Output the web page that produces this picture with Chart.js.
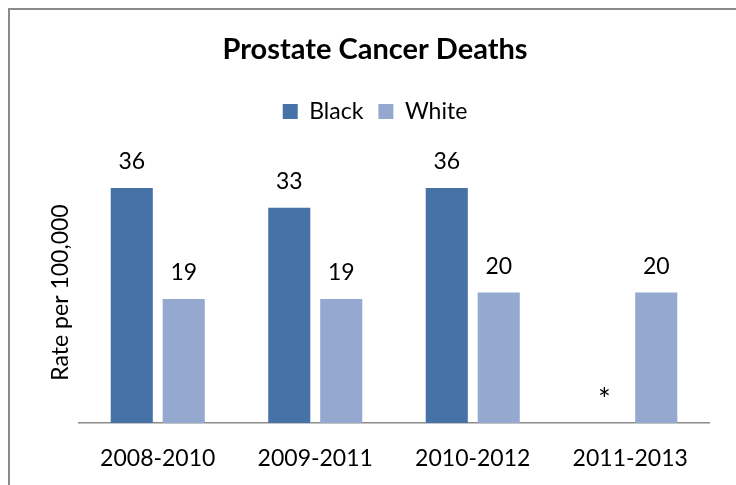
<!DOCTYPE html>
<html>
<head>
<meta charset="utf-8">
<script src="https://cdn.jsdelivr.net/npm/chart.js@4.4.1/dist/chart.umd.min.js"></script>
<style>
  html, body { margin: 0; padding: 0; background: #ffffff; }
  #wrap { width: 736px; height: 485px; position: relative; }
</style>
</head>
<body>
<div id="wrap"><canvas id="chart" width="736" height="485"></canvas></div>
<script>
// Prostate cancer death rates per 100,000, three-year averages
const categories = ['2008-2010', '2009-2011', '2010-2012', '2011-2013'];
const blackRates = [36, 33, 36, null];   // null: rate suppressed, shown as "*"
const whiteRates = [19, 19, 20, 20];
const seriesNames = ['Black', 'White'];
const suppressedMark = '*';

const FONT = 'Lato, "Open Sans", "DejaVu Sans", sans-serif';

// White page with a thin grey frame along the top and left edges
const frame = {
  id: 'frame',
  beforeDraw(chart) {
    const ctx = chart.ctx;
    ctx.save();
    ctx.fillStyle = '#ffffff';
    ctx.fillRect(0, 0, chart.width, chart.height);
    ctx.strokeStyle = '#8a8a8a';
    ctx.lineWidth = 2;
    ctx.beginPath();
    ctx.moveTo(9, chart.height + 5);
    ctx.lineTo(9, 9);
    ctx.lineTo(chart.width + 5, 9);
    ctx.stroke();
    ctx.restore();
  }
};

// Extra space between the legend row and the plot area
const legendGap = {
  id: 'legendGap',
  beforeInit(chart) {
    const legend = chart.legend;
    if (!legend) return;
    const fit = legend.fit;
    legend.fit = function () {
      fit.call(this);
      this.height += 29;
    };
  }
};

// Value labels above each bar ("*" where the rate is suppressed)
const valueLabels = {
  id: 'valueLabels',
  afterDatasetsDraw(chart) {
    const ctx = chart.ctx;
    ctx.save();
    ctx.fillStyle = '#000000';
    ctx.textAlign = 'center';
    ctx.textBaseline = 'alphabetic';
    chart.data.datasets.forEach((ds, i) => {
      const meta = chart.getDatasetMeta(i);
      meta.data.forEach((el, j) => {
        const v = ds.data[j];
        if (v == null) {
          ctx.font = '30px ' + FONT;
          ctx.fillText(suppressedMark, el.x, el.y - 13);
        } else {
          ctx.font = '23px ' + FONT;
          ctx.fillText(String(v), el.x, el.y - 19);
        }
      });
    });
    ctx.restore();
  }
};

new Chart(document.getElementById('chart'), {
  type: 'bar',
  data: {
    labels: categories,
    datasets: [
      { label: seriesNames[0], data: blackRates, backgroundColor: '#4672A7' },
      { label: seriesNames[1], data: whiteRates, backgroundColor: '#95A9D0' }
    ]
  },
  options: {
    responsive: false,
    animation: false,
    devicePixelRatio: 1,
    layout: { padding: { top: 12, left: 41, right: 27, bottom: 12.7 } },
    datasets: {
      bar: { categoryPercentage: 0.66, barPercentage: 0.81 }
    },
    plugins: {
      title: {
        display: true,
        text: 'Prostate Cancer Deaths',
        color: '#000000',
        font: { family: FONT, size: 29, weight: 'bold' },
        padding: { top: 20.6, bottom: 17.6 }
      },
      legend: {
        display: true,
        position: 'top',
        labels: {
          color: '#000000',
          font: { family: FONT, size: 23 },
          boxWidth: 15,
          boxHeight: 15,
          padding: 15
        }
      },
      tooltip: { enabled: false }
    },
    scales: {
      x: {
        grid: { display: false, drawTicks: false },
        border: { display: true, color: '#8a8a8a', width: 1.5 },
        ticks: {
          color: '#000000',
          font: { family: FONT, size: 23 },
          padding: 21.7,
          maxRotation: 0
        },
        afterFit(scale) { scale.height = 49.3; }
      },
      y: {
        min: 0,
        max: 40,
        grid: { display: false, drawTicks: false },
        border: { display: false },
        ticks: { display: false },
        title: {
          display: true,
          text: 'Rate per 100,000',
          color: '#000000',
          font: { family: FONT, size: 23 },
          padding: { top: 6.2, bottom: 4.2 }
        }
      }
    }
  },
  plugins: [frame, legendGap, valueLabels]
});
</script>
</body>
</html>
